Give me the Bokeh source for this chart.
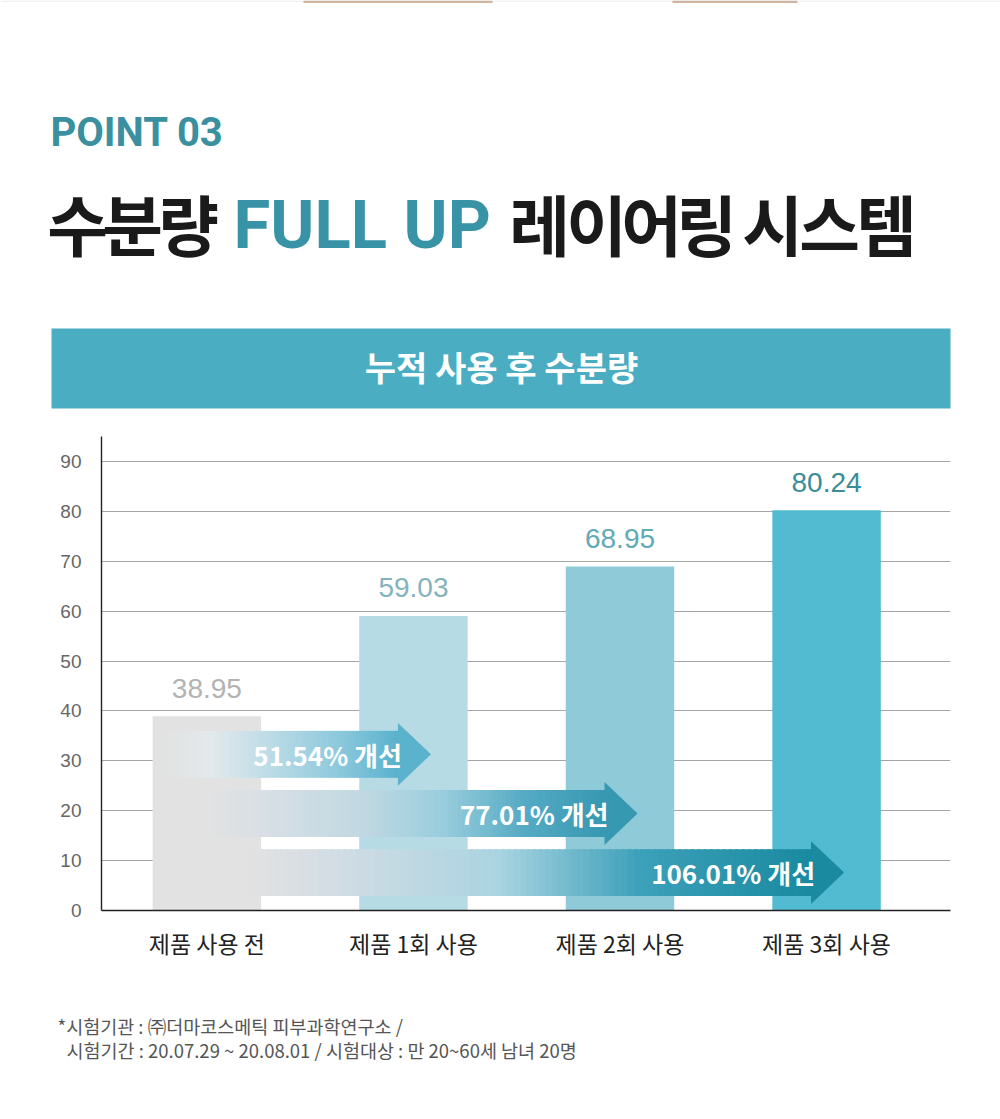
import numpy as np
from bokeh.plotting import figure
from bokeh.models import Range1d, FixedTicker, ColumnDataSource
from bokeh.layouts import column
from bokeh.embed import file_html
from bokeh.resources import INLINE
from bokeh.core.properties import value

# ---------------- data ----------------
categories = ["제품 사용 전", "제품 1회 사용", "제품 2회 사용", "제품 3회 사용"]
moisture = [38.95, 59.03, 68.95, 80.24]
value_labels = ["38.95", "59.03", "68.95", "80.24"]
improvement_pct = [51.54, 77.01, 106.01]
improvement_labels = ["51.54% 개선", "77.01% 개선", "106.01% 개선"]
y_ticks = [0, 10, 20, 30, 40, 50, 60, 70, 80, 90]

bar_colors = ["#e2e2e2", "#b6dbe5", "#8fcad8", "#52bbd1"]
label_colors = ["#b3b3b3", "#84b3bb", "#62aab6", "#3b8c99"]

W = 1000
HEAD_H = 436
CHART_H = 549
FOOT_H = 1119 - HEAD_H - CHART_H

KR = "Noto Sans CJK KR"

# ---------------- header ----------------
head = figure(width=W, height=HEAD_H, x_range=Range1d(0, W), y_range=Range1d(HEAD_H, 0),
              x_axis_type=None, y_axis_type=None, toolbar_location=None,
              output_backend="svg", min_border=0, outline_line_color=None, title=None,
              frame_align=False)

head.quad(left=[0], right=[W], top=[0], bottom=[1.2], color="#ececec", line_color=None)
head.quad(left=[303, 672], right=[492, 797], top=[0, 0], bottom=[2.5, 2.5],
          color="#cfb4a2", line_color=None)

head.text(x=[50], y=[132], text=["POINT 03"], text_font=value("Roboto"), text_font_style="bold",
          text_font_size="40px", text_color="#3a909f", text_baseline="alphabetic", text_align="left")

title_chars = list("수분량") + list("레이어링") + list("시스템")
title_cx = [77, 132, 188, 539, 596, 651, 706, 772, 829, 886]
head.text(x=title_cx, y=[221] * len(title_cx), text=title_chars, text_font=value(KR),
          text_font_style="bold", text_font_size="66px", text_color="#1a1a1a",
          text_align="center", text_baseline="alphabetic")
head.text(x=[233], y=[224], text=["FULL UP"], text_font=value("Roboto"), text_font_style="bold",
          text_font_size="67px", text_color="#3793a5", text_align="left", text_baseline="alphabetic")

head.quad(left=[51], right=[950], top=[328], bottom=[408], color="#4badc2", line_color=None)
head.text(x=[501], y=[366], text=["누적 사용 후 수분량"], text_font=value(KR), text_font_style="bold",
          text_font_size="34px", text_color="white", text_align="center", text_baseline="middle")

# ---------------- chart ----------------
p = figure(width=W, height=CHART_H, x_range=Range1d(-0.51, 3.6), y_range=Range1d(0, 95),
           toolbar_location=None, output_backend="svg", title=None,
           min_border_left=101, min_border_right=50, min_border_top=0, min_border_bottom=75,
           outline_line_color=None, frame_align=False)

p.xgrid.visible = False
p.ygrid.grid_line_color = "#a6a6a6"
p.ygrid.grid_line_width = 1

p.yaxis.ticker = FixedTicker(ticks=y_ticks)
p.yaxis.axis_line_color = "#222222"
p.yaxis.axis_line_width = 1.4
p.yaxis.major_tick_line_color = None
p.yaxis.minor_tick_line_color = None
p.yaxis.major_label_text_font = "Liberation Sans"
p.yaxis.major_label_text_font_size = "19px"
p.yaxis.major_label_text_color = "#666666"
p.yaxis.major_label_standoff = 14

xs = list(range(len(categories)))
p.xaxis.ticker = FixedTicker(ticks=xs)
p.xaxis.major_label_overrides = {i: c for i, c in zip(xs, categories)}
p.xaxis.axis_line_color = "#222222"
p.xaxis.axis_line_width = 1.4
p.xaxis.major_tick_line_color = None
p.xaxis.minor_tick_line_color = None
p.xaxis.major_label_text_font = KR
p.xaxis.major_label_text_font_size = "23px"
p.xaxis.major_label_text_color = "#222222"
p.xaxis.major_label_standoff = 9

src = ColumnDataSource(dict(x=xs, top=moisture, color=bar_colors, lab=value_labels, lc=label_colors))
p.vbar(x="x", top="top", bottom=0, width=0.525, color="color", line_color=None, source=src)
p.text(x="x", y="top", text="lab", text_color="lc", source=src, text_align="center",
       text_baseline="middle", y_offset=-28, text_font=value("Liberation Sans"),
       text_font_size="28px")


def hex2rgb(h):
    h = h.lstrip("#")
    return tuple(int(h[i:i + 2], 16) for i in (0, 2, 4))


def rgb2hex(c):
    return "#%02x%02x%02x" % tuple(int(round(v)) for v in c)


# gradient stops (t, colour) for each arrow, head colour
arrow_styles = [
    ([(0.0, "#e2e2e2"), (0.2, "#e3e9ec"), (0.45, "#bcdbe6"),
      (0.75, "#8cc8dc"), (1.0, "#5ab2cd")], "#5ab2cd"),
    ([(0.0, "#e2e2e2"), (0.15, "#d8dfe5"), (0.4, "#c0d8e2"),
      (0.6, "#98cddd"), (0.8, "#55aac3"), (1.0, "#3798b2")], "#3798b2"),
    ([(0.0, "#e2e2e2"), (0.12, "#d8dee4"), (0.45, "#aad4e1"),
      (0.7, "#3ca0b9"), (1.0, "#198aa0")], "#198aa0"),
]


def interp(stops, t):
    for (t0, c0), (t1, c1) in zip(stops[:-1], stops[1:]):
        if t0 <= t <= t1:
            f = (t - t0) / (t1 - t0) if t1 > t0 else 0
            r0, r1 = np.array(hex2rgb(c0)), np.array(hex2rgb(c1))
            return rgb2hex(r0 + (r1 - r0) * f)
    return stops[-1][1]


for j, (pct, lab) in enumerate(zip(improvement_pct, improvement_labels)):
    k = j + 1
    stops, head_col = arrow_styles[j]
    x0 = -0.2 + 0.185 * j
    xh = k - 0.075
    xt = k + 0.085
    yc = 31.3 - 11.85 * j
    bh, hh = 4.7, 6.3
    N = 90
    edges = np.linspace(x0, xh, N + 1)
    dx = edges[1] - edges[0]
    cols = [interp(stops, (i + 0.5) / N) for i in range(N)]
    p.quad(left=edges[:-1], right=edges[1:] + dx * 0.5, top=[yc + bh] * N, bottom=[yc - bh] * N,
           fill_color=cols, line_color=None)
    p.patch(x=[xh, xt, xh], y=[yc + hh, yc, yc - hh], fill_color=head_col, line_color=None)
    p.text(x=[xh], y=[yc], text=[lab], text_align="right", text_baseline="middle", x_offset=4,
           text_font=value(KR), text_font_style="bold", text_font_size="26px", text_color="white")

# ---------------- footnote ----------------
foot = figure(width=W, height=FOOT_H, x_range=Range1d(0, W), y_range=Range1d(1119, HEAD_H + CHART_H),
              x_axis_type=None, y_axis_type=None, toolbar_location=None,
              output_backend="svg", min_border=0, outline_line_color=None, title=None,
              frame_align=False)
foot.text(x=[57, 66], y=[1025, 1049],
          text=["*시험기관 : ㈜더마코스메틱 피부과학연구소 /",
                "시험기간 : 20.07.29 ~ 20.08.01 / 시험대상 : 만 20~60세 남녀 20명"],
          text_font=value(KR), text_font_size="18.5px", text_color="#555555",
          text_align="left", text_baseline="middle")

layout = column(head, p, foot, spacing=0)
open("out.html", "w").write(file_html(layout, INLINE))
